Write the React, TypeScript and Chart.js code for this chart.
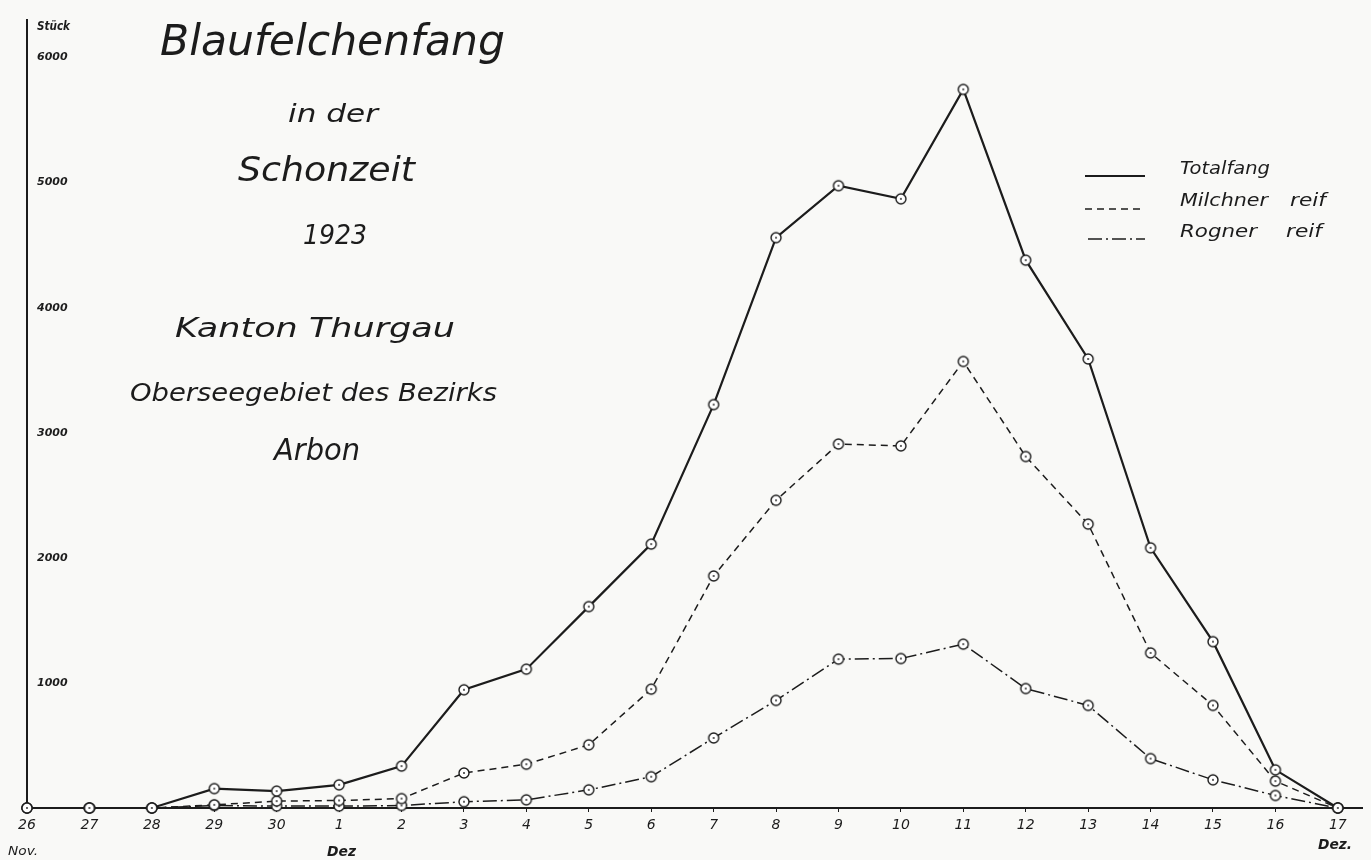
import React, { useEffect, useRef } from "react";
import { Chart, registerables } from "chart.js";

Chart.register(...registerables);

const dayLabels = ["26", "27", "28", "29", "30", "1", "2", "3", "4", "5", "6", "7", "8", "9", "10", "11", "12", "13", "14", "15", "16", "17"];
const totalfang = [0, 0, 0, 155, 135, 185, 335, 945, 1110, 1610, 2110, 3225, 4560, 4975, 4870, 5745, 4380, 3590, 2080, 1330, 305, 0];
const milchnerReif = [0, 0, 0, 25, 55, 60, 75, 280, 350, 505, 950, 1855, 2460, 2910, 2895, 3570, 2810, 2270, 1240, 820, 215, 0];
const rognerReif = [0, 0, 0, 20, 15, 15, 20, 50, 65, 145, 250, 560, 860, 1190, 1195, 1310, 955, 820, 395, 225, 100, 0];
const yTickValues = [1000, 2000, 3000, 4000, 5000, 6000];
const seriesNames = ["Totalfang", "Milchner reif", "Rogner reif"];

const INK = "#1c1c1c";
const PAPER = "#f9f9f7";
const FONT = '"DejaVu Sans"';

function fitText(ctx: CanvasRenderingContext2D, text: string, left: number, right: number, cy: number, size: number, weight = "normal") {
  ctx.save();
  ctx.font = `italic ${weight} ${size}px ${FONT}`;
  const w = ctx.measureText(text).width;
  const target = right - left;
  ctx.translate(left, cy);
  ctx.scale(target / w, 1);
  ctx.textBaseline = "middle";
  ctx.textAlign = "left";
  ctx.fillStyle = INK;
  ctx.fillText(text, 0, 0);
  ctx.restore();
}

function makeMarker(): HTMLCanvasElement {
  const c = document.createElement("canvas");
  c.width = 14;
  c.height = 14;
  const g = c.getContext("2d")!;
  g.beginPath();
  g.arc(7, 7, 5, 0, Math.PI * 2);
  g.fillStyle = "#ffffff";
  g.fill();
  g.lineWidth = 1.4;
  g.strokeStyle = INK;
  g.stroke();
  g.beginPath();
  g.arc(7, 7, 0.9, 0, Math.PI * 2);
  g.fillStyle = INK;
  g.fill();
  return c;
}

const decorPlugin = {
  id: "decor",
  beforeDraw(chart: any) {
    const ctx = chart.ctx as CanvasRenderingContext2D;
    ctx.save();
    ctx.fillStyle = PAPER;
    ctx.fillRect(0, 0, chart.width, chart.height);
    ctx.restore();
  },
  afterDraw(chart: any) {
    const ctx = chart.ctx as CanvasRenderingContext2D;
    // Title block
    fitText(ctx, "Blaufelchenfang", 160, 505, 44, 42);
    fitText(ctx, "in der", 288, 378, 115, 25);
    fitText(ctx, "Schonzeit", 238, 415, 172, 34);
    fitText(ctx, "1923", 303, 367, 237, 26);
    fitText(ctx, "Kanton Thurgau", 175, 455, 330, 27);
    fitText(ctx, "Oberseegebiet des Bezirks", 130, 497, 395, 24);
    fitText(ctx, "Arbon", 274, 360, 452, 30);

    // Axis annotations
    fitText(ctx, "Stück", 37, 70, 27, 12, "bold");
    fitText(ctx, "Nov.", 8, 38, 852, 13);
    fitText(ctx, "Dez", 327, 356, 852, 14, "bold");
    fitText(ctx, "Dez.", 1318, 1352, 845, 14, "bold");

    // Legend
    const rows = [
      { y: 176, dash: [] as number[], lw: 2.2, x0: 1085 },
      { y: 209, dash: [7, 5], lw: 1.5, x0: 1085 },
      { y: 239, dash: [14, 4, 2, 4], lw: 1.5, x0: 1088 },
    ];
    rows.forEach((r) => {
      ctx.save();
      ctx.strokeStyle = INK;
      ctx.lineWidth = r.lw;
      ctx.setLineDash(r.dash);
      ctx.beginPath();
      ctx.moveTo(r.x0, r.y);
      ctx.lineTo(1145, r.y);
      ctx.stroke();
      ctx.restore();
    });
    fitText(ctx, seriesNames[0], 1180, 1270, 170, 17);
    fitText(ctx, "Milchner", 1180, 1268, 202, 17);
    fitText(ctx, "reif", 1290, 1326, 202, 17);
    fitText(ctx, "Rogner", 1180, 1257, 233, 17);
    fitText(ctx, "reif", 1286, 1322, 233, 17);
  },
};

export default function App() {
  const ref = useRef<HTMLCanvasElement | null>(null);

  useEffect(() => {
    const canvas = ref.current;
    if (!canvas) return;
    const marker = makeMarker();
    const toPoints = (arr: number[]) => arr.map((v, i) => ({ x: i, y: v }));
    const common = {
      borderColor: INK,
      pointStyle: marker as any,
      pointRadius: 6,
      pointHoverRadius: 6,
      tension: 0,
      fill: false,
      clip: false as any,
    };
    const chart = new Chart(canvas, {
      type: "line",
      data: {
        datasets: [
          { ...common, label: seriesNames[0], data: toPoints(totalfang), borderWidth: 2.2 },
          { ...common, label: seriesNames[1], data: toPoints(milchnerReif), borderWidth: 1.5, borderDash: [7, 5] },
          { ...common, label: seriesNames[2], data: toPoints(rognerReif), borderWidth: 1.5, borderDash: [14, 4, 2, 4] },
        ],
      },
      options: {
        animation: false,
        responsive: false,
        maintainAspectRatio: false,
        layout: { padding: { left: 27, right: 6, top: 20, bottom: 0 } },
        plugins: { legend: { display: false }, tooltip: { enabled: false } },
        scales: {
          x: {
            type: "linear",
            min: 0,
            max: 21.4,
            afterBuildTicks: (s: any) => {
              s.ticks = dayLabels.map((_, i) => ({ value: i }));
            },
            afterFit: (s: any) => {
              s.height = 52;
            },
            ticks: {
              callback: (v: any) => dayLabels[v as number] ?? "",
              font: { family: "DejaVu Sans", style: "italic", size: 14 },
              color: INK,
              padding: 5,
              maxRotation: 0,
              autoSkip: false,
            },
            grid: { drawOnChartArea: false, drawTicks: true, tickLength: 4, color: INK, lineWidth: 1 },
            border: { display: true, color: INK, width: 2 },
          },
          y: {
            type: "linear",
            min: 0,
            max: 6300,
            afterBuildTicks: (s: any) => {
              s.ticks = yTickValues.map((v) => ({ value: v }));
            },
            afterFit: (s: any) => {
              s.width = 0;
            },
            ticks: {
              mirror: true,
              padding: 10,
              font: { family: "DejaVu Sans", style: "italic", weight: "bold", size: 11 },
              color: INK,
              callback: (v: any) => String(v),
            },
            grid: { display: true, drawOnChartArea: false, drawTicks: false },
            border: { display: true, color: INK, width: 2 },
          },
        },
      } as any,
      plugins: [decorPlugin],
    });
    return () => chart.destroy();
  }, []);

  return (
    <div style={{ position: "fixed", left: 0, top: 0, width: 1371, height: 860, background: PAPER }}>
      <canvas ref={ref} width={1371} height={860} style={{ display: "block" }} />
    </div>
  );
}
